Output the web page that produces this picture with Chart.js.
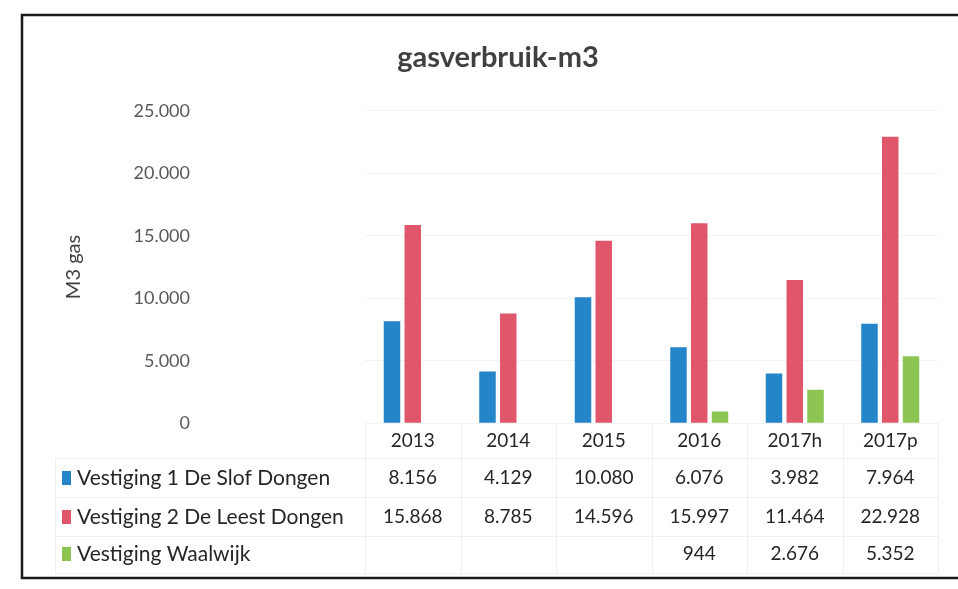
<!DOCTYPE html>
<html>
<head>
<meta charset="utf-8">
<style>
  html, body { margin: 0; padding: 0; background: #fff; }
  canvas { display: block; }
</style>
<script src="https://cdn.jsdelivr.net/npm/chart.js@4/dist/chart.umd.min.js"></script>
</head>
<body>
<canvas id="gas" width="958" height="589"></canvas>
<script>
const years = ['2013', '2014', '2015', '2016', '2017h', '2017p'];
const slofDongen = [8156, 4129, 10080, 6076, 3982, 7964];
const leestDongen = [15868, 8785, 14596, 15997, 11464, 22928];
const waalwijk = [null, null, null, 944, 2676, 5352];
const seriesNames = ['Vestiging 1 De Slof Dongen', 'Vestiging 2 De Leest Dongen', 'Vestiging Waalwijk'];
const seriesColors = ['#2485c9', '#e0566a', '#8cc552'];

const fontFam = 'Lato, "Open Sans", sans-serif';

// dutch style thousands: 25.000
function fmt(v) {
    if (v === null || v === undefined) return '';
    return String(v).replace(/\B(?=(\d{3})+(?!\d))/g, '.');
}

// data table under the chart + the scanned frame
const tablePlugin = {
    id: 'dataTable',
    afterDraw(chart) {
        const c = chart.ctx;
        const xs = chart.scales.x;
        const area = chart.chartArea;
        const colW = (xs.right - xs.left) / years.length;
        const rowY = [478, 517, 554];
        const lines = [458, 497, 536, 573];

        c.save();
        // faint table grid
        c.strokeStyle = '#efefef';
        c.lineWidth = 1;
        for (let i = 0; i <= years.length; i++) {
            const x = Math.round(xs.left + i * colW) + 0.5;
            c.beginPath();
            c.moveTo(x, area.bottom);
            c.lineTo(x, 573);
            c.stroke();
        }
        lines.forEach(y => {
            c.beginPath();
            c.moveTo(55, y + 0.5);
            c.lineTo(xs.right, y + 0.5);
            c.stroke();
        });
        c.beginPath();
        c.moveTo(55.5, lines[0]);
        c.lineTo(55.5, 573);
        c.stroke();

        // rows
        c.textBaseline = 'middle';
        chart.data.datasets.forEach((ds, r) => {
            const y = rowY[r];
            c.fillStyle = ds.backgroundColor;
            c.fillRect(62, y - 7, 9, 14);
            c.fillStyle = '#262626';
            c.font = '21px ' + fontFam;
            c.textAlign = 'left';
            c.fillText(ds.label, 77, y);
            c.textAlign = 'center';
            c.font = '19px ' + fontFam;
            ds.data.forEach((v, i) => {
                c.fillText(fmt(v), xs.getPixelForValue(i), y);
            });
        });

        // frame
        c.strokeStyle = '#1a1a1a';
        c.lineWidth = 2.5;
        c.strokeRect(22, 15, 960, 563);
        c.restore();
    }
};

new Chart(document.getElementById('gas'), {
    type: 'bar',
    data: {
        labels: years,
        datasets: [
            { label: seriesNames[0], data: slofDongen, backgroundColor: seriesColors[0] },
            { label: seriesNames[1], data: leestDongen, backgroundColor: seriesColors[1] },
            { label: seriesNames[2], data: waalwijk, backgroundColor: seriesColors[2] }
        ]
    },
    options: {
        responsive: false,
        animation: false,
        layout: { padding: { left: 58, right: 20, top: 20, bottom: 131 } },
        datasets: {
            bar: { categoryPercentage: 0.652, barPercentage: 0.795 }
        },
        plugins: {
            legend: { display: false },
            tooltip: { enabled: false },
            title: {
                display: true,
                text: 'gasverbruik-m3',
                color: '#404040',
                font: { family: fontFam, size: 29, weight: 'bold' },
                padding: { top: 20, bottom: 36 }
            }
        },
        scales: {
            x: {
                grid: { display: false, drawTicks: false },
                border: { display: false },
                ticks: {
                    color: '#262626',
                    padding: 6,
                    font: { family: fontFam, size: 19 }
                }
            },
            y: {
                min: 0,
                max: 25000,
                afterFit(scale) {
                    // wide gap between labels and plot, but no extra top/bottom room
                    scale.width = 307;
                    scale.paddingTop = 11;
                    scale.paddingBottom = 11;
                },
                grid: { color: '#f3f3f3', drawTicks: false },
                border: { display: false },
                ticks: {
                    stepSize: 5000,
                    padding: 175,
                    color: '#595959',
                    font: { family: fontFam, size: 18 },
                    callback: v => fmt(v)
                },
                title: {
                    display: true,
                    text: 'M3 gas',
                    color: '#404040',
                    padding: 4,
                    font: { family: fontFam, size: 20 }
                }
            }
        }
    },
    plugins: [tablePlugin]
});
</script>
</body>
</html>
